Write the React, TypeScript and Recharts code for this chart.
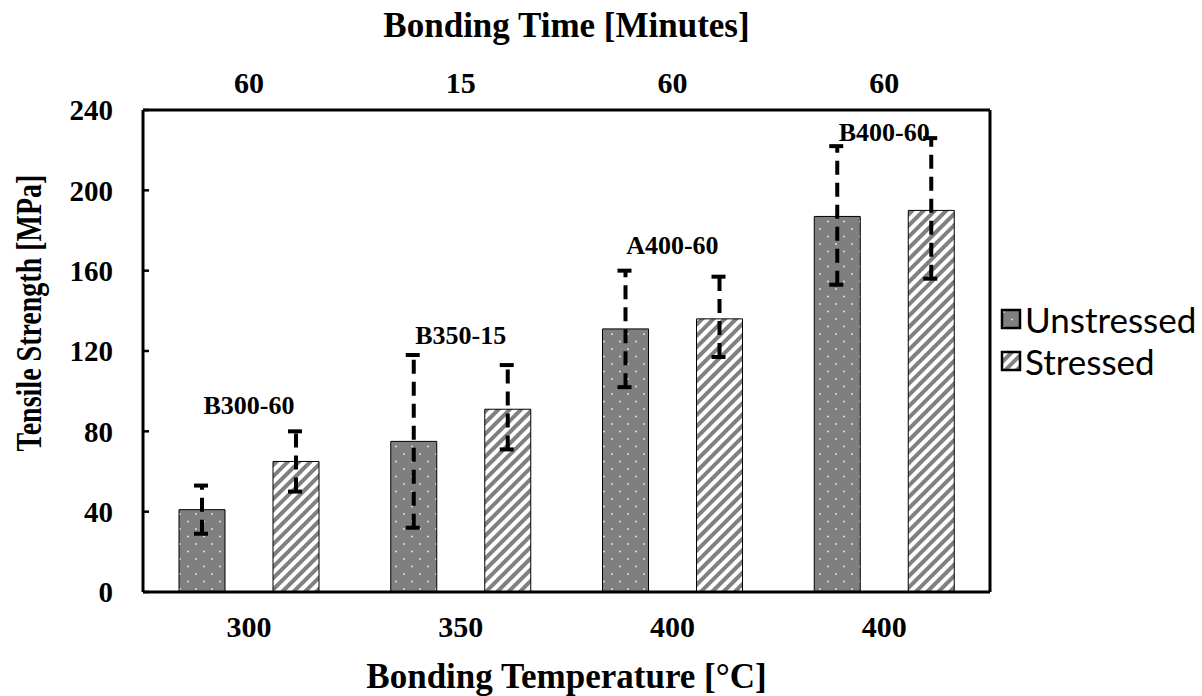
import React from "react";
import {
  ComposedChart,
  Bar,
  Line,
  XAxis,
  YAxis,
  ErrorBar,
  Legend,
  LabelList,
} from "recharts";

const sampleIds = ["B300-60", "B350-15", "A400-60", "B400-60"];
const temperatures = ["300", "350", "400", "400"];
const bondingTimes = ["60", "15", "60", "60"];
const unstressed = [41, 75, 131, 187];
const unstressedErr = [
  [12, 12],
  [43, 43],
  [29, 29],
  [34, 35],
];
const stressed = [65, 91, 136, 190];
const stressedErr = [
  [15, 15],
  [20, 22],
  [19, 21],
  [34, 36],
];
const labelY = [93, 128, 173, 229];
const yTicks = [0, 40, 80, 120, 160, 200, 240];

const data = sampleIds.map((id, i) => ({
  id,
  unstressed: unstressed[i],
  unstressedErr: unstressedErr[i],
  stressed: stressed[i],
  stressedErr: stressedErr[i],
  labelY: labelY[i],
}));

const SERIF = "'Liberation Serif', 'Times New Roman', serif";
const SANS = "Lato, 'Noto Sans', sans-serif";

const LegendContent = () => (
  <div style={{ fontFamily: SANS, fontSize: 35, color: "#000", lineHeight: "42px" }}>
    {[
      { name: "Unstressed", fill: "url(#dots)" },
      { name: "Stressed", fill: "url(#stripes)" },
    ].map((it) => (
      <div key={it.name} style={{ display: "flex", alignItems: "center" }}>
        <svg width={22} height={22} style={{ marginRight: 3 }}>
          <rect x={2} y={2} width={18} height={18} fill={it.fill} stroke="#000" strokeWidth={2.5} />
        </svg>
        <span>{it.name}</span>
      </div>
    ))}
  </div>
);

const YLabel = (props: any) => {
  const vb = props.viewBox || {};
  const x = vb.x + 29;
  const y = vb.y + vb.height / 2 - 38;
  return (
    <text
      x={0}
      y={0}
      transform={`translate(${x}, ${y}) rotate(-90) scale(0.8, 1)`}
      textAnchor="middle"
      dominantBaseline="central"
      fontFamily={SERIF}
      fontWeight="bold"
      fontSize={35}
      fill="#000"
    >
      Tensile Strength [MPa]
    </text>
  );
};

export default function App() {
  return (
    <div style={{ position: "absolute", left: 0, top: 0, background: "#fff" }}>
      <ComposedChart
        width={1202}
        height={696}
        data={data}
        margin={{ top: 0, right: 11, bottom: 0, left: 0 }}
        barSize={46}
        barGap={48}
      >
        <defs>
          <pattern id="dots" patternUnits="userSpaceOnUse" width={16} height={15}>
            <rect x={0} y={0} width={16} height={15} fill="#7f7f7f" />
            <circle cx={4} cy={4} r={1} fill="#e0e0e0" />
            <circle cx={12} cy={11.5} r={1} fill="#e0e0e0" />
          </pattern>
          <pattern
            id="stripes"
            patternUnits="userSpaceOnUse"
            width={8}
            height={8}
            patternTransform="rotate(45)"
          >
            <rect x={0} y={0} width={8} height={8} fill="#fff" />
            <rect x={0} y={0} width={4} height={8} fill="#808080" />
          </pattern>
        </defs>
        <XAxis
          dataKey="id"
          xAxisId="bottom"
          height={104}
          tickLine={false}
          tickSize={0}
          tickMargin={24}
          axisLine={{ stroke: "#000", strokeWidth: 3 }}
          tickFormatter={(_v: any, i: number) => temperatures[i]}
          tick={{ fill: "#000", fontSize: 30, fontWeight: "bold", fontFamily: SERIF }}
          label={{
            value: "Bonding Temperature [°C]",
            position: "insideBottom",
            offset: 8,
            fill: "#000",
            fontSize: 35,
            fontWeight: "bold",
            fontFamily: SERIF,
          }}
        />
        <XAxis
          dataKey="id"
          xAxisId="top"
          orientation="top"
          height={110}
          tickLine={false}
          tickSize={0}
          tickMargin={17}
          axisLine={{ stroke: "#000", strokeWidth: 3 }}
          tickFormatter={(_v: any, i: number) => bondingTimes[i]}
          tick={{ fill: "#000", fontSize: 30, fontWeight: "bold", fontFamily: SERIF }}
          label={{
            value: "Bonding Time [Minutes]",
            position: "insideTop",
            offset: 12,
            fill: "#000",
            fontSize: 35,
            fontWeight: "bold",
            fontFamily: SERIF,
          }}
        />
        <YAxis
          yAxisId="left"
          width={143}
          domain={[0, 240]}
          ticks={yTicks}
          interval={0}
          tickSize={-6}
          tickMargin={36}
          tickLine={{ stroke: "#000", strokeWidth: 2.5 }}
          axisLine={{ stroke: "#000", strokeWidth: 3 }}
          tick={{ fill: "#000", fontSize: 29, fontWeight: "bold", fontFamily: SERIF }}
          label={<YLabel />}
        />
        <YAxis
          yAxisId="right"
          orientation="right"
          width={1}
          domain={[0, 240]}
          tick={false}
          tickLine={false}
          axisLine={{ stroke: "#000", strokeWidth: 3 }}
        />
        <Legend
          layout="vertical"
          align="right"
          verticalAlign="middle"
          wrapperStyle={{ width: 200, left: 1000, top: 298 }}
          content={<LegendContent />}
        />
        <Bar
          dataKey="unstressed"
          name="Unstressed"
          xAxisId="bottom"
          yAxisId="left"
          fill="url(#dots)"
          stroke="#000"
          strokeWidth={1}
          isAnimationActive={false}
        >
          <ErrorBar
            dataKey="unstressedErr"
            width={8}
            stroke="#000"
            strokeWidth={4}
            strokeDasharray="14 8"
            isAnimationActive={false}
          />
        </Bar>
        <Bar
          dataKey="stressed"
          name="Stressed"
          xAxisId="bottom"
          yAxisId="left"
          fill="url(#stripes)"
          stroke="#000"
          strokeWidth={1}
          isAnimationActive={false}
        >
          <ErrorBar
            dataKey="stressedErr"
            width={8}
            stroke="#000"
            strokeWidth={4}
            strokeDasharray="14 8"
            isAnimationActive={false}
          />
        </Bar>
        <Line
          dataKey="labelY"
          xAxisId="bottom"
          yAxisId="left"
          stroke="none"
          dot={false}
          activeDot={false}
          legendType="none"
          isAnimationActive={false}
        >
          <LabelList
            dataKey="id"
            position="center"
            fill="#000"
            fontSize={26}
            fontWeight="bold"
            fontFamily={SERIF}
          />
        </Line>
      </ComposedChart>
    </div>
  );
}
